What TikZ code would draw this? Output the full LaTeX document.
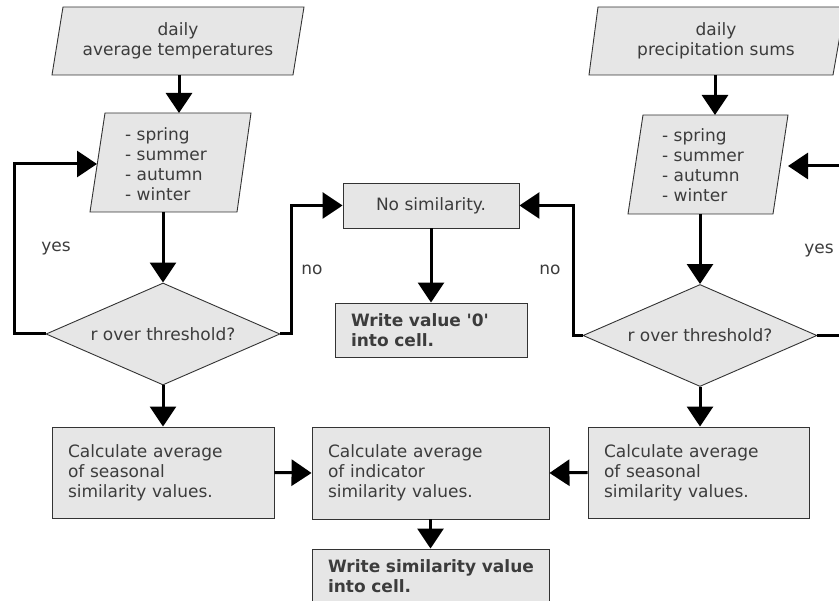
\documentclass[tikz,border=0pt]{standalone}
\usepackage{fontspec}
\setmainfont{DejaVu Sans}
\usetikzlibrary{arrows.meta,shapes.geometric}
\definecolor{boxfill}{HTML}{E6E6E6}
\definecolor{txtcol}{HTML}{3C3C3C}
\definecolor{edgecol}{HTML}{333333}
\begin{document}
\begin{tikzpicture}[x=1pt,y=-1pt,
  shp/.style={draw=edgecol, fill=boxfill, line width=0.9pt},
  txtstyle/.style={text=txtcol, font=\fontsize{17}{20}\selectfont},
  rbox/.style={shp, txtstyle, rectangle, inner ysep=0pt, inner xsep=16pt, align=left},
  dia/.style={shp, txtstyle, diamond, inner sep=0pt, aspect=2.29, minimum width=234pt, minimum height=102pt},
  conn/.style={line width=3pt, line join=miter, -{Triangle[length=20pt,width=26pt]}},
  lab/.style={txtstyle, inner sep=0pt}]
\useasboundingbox (0,0) rectangle (839,601);
\clip (0,0) rectangle (839,601);

% left input parallelograms
\path[shp] (63,7) -- (304,7) -- (293,75) -- (52,75) -- cycle;
\node[txtstyle, align=center, inner sep=0pt] (topL) at (178,41) {daily\\average temperatures};
\coordinate (topLs) at (179,75);
\path[shp] (105,113) -- (251,113) -- (237,212) -- (90,212) -- cycle;
\node[txtstyle, align=left, inner sep=0pt, anchor=west] (seasL) at (125,164) {- spring\\- summer\\- autumn\\- winter};
\coordinate (seasLn) at (179,113);
\coordinate (seasLs) at (163,212);
\coordinate (seasLw) at (97,164);

% right input parallelograms
\path[shp] (598,7) -- (845,7) -- (833,75) -- (589,75) -- cycle;
\node[txtstyle, align=center, inner sep=0pt] (topR) at (716,41) {daily\\precipitation sums};
\coordinate (topRs) at (715,75);
\path[shp] (643,115) -- (788,115) -- (773,214) -- (628,214) -- cycle;
\node[txtstyle, align=left, inner sep=0pt, anchor=west] (seasR) at (662,165) {- spring\\- summer\\- autumn\\- winter};
\coordinate (seasRn) at (715,115);
\coordinate (seasRs) at (700,214);
\coordinate (seasRe) at (788,166);

% decisions
\node[dia] (diaL) at (163,334) {r over threshold?};
\node[dia] (diaR) at (700,335.5) {r over threshold?};

% rectangles
\node[rbox, align=center, minimum width=176pt, minimum height=45pt, inner xsep=0pt] (noSim) at (431,205.5) {No similarity.};
\node[rbox, text width=160pt, minimum height=54pt, font=\fontsize{17}{20}\selectfont\bfseries] (wZero) at (431,330) {Write value \textquotesingle 0\textquotesingle\\into cell.};
\node[rbox, text width=190pt, minimum height=91pt] (calcL) at (163,472.5) {Calculate average\\of seasonal\\similarity values.};
\node[rbox, text width=205pt, minimum height=92pt] (mid) at (430.5,473) {Calculate average\\of indicator\\similarity values.};
\node[rbox, text width=189pt, minimum height=91pt] (calcR) at (698.5,472.5) {Calculate average\\of seasonal\\similarity values.};
\node[rbox, text width=205pt, minimum height=54pt, font=\fontsize{17}{20}\selectfont\bfseries] (wSim) at (430.5,576) {\mbox{Write similarity value}\\into cell.};

% connectors
\draw[conn] (topLs) -- (seasLn);
\draw[conn] (seasLs) -- (diaL.north);
\draw[conn] (diaL.west) -- ++(-31,0) |- (seasLw);
\draw[conn] (diaL.east) -- ++(11,0) |- (noSim.west);
\draw[conn] (noSim.south) -- (wZero.north);
\draw[conn] (topRs) -- (seasRn);
\draw[conn] (seasRs) -- (diaR.north);
\draw[conn] (diaR.west) -- ++(-9,0) |- (noSim.east);
\draw[conn] (diaR.east) -- ++(40,0) |- (seasRe);
\draw[conn] (diaL.south) -- (calcL.north);
\draw[conn] (diaR.south) -- (diaR.south |- calcR.north);
\draw[conn] (calcL.east) -- (mid.west);
\draw[conn] (calcR.west) -- (mid.east);
\draw[conn] (mid.south) -- (wSim.north);

% labels
\node[lab] (yesL) at (56,249) {yes};
\node[lab] (noL) at (312,270) {no};
\node[lab] (noR) at (550,270) {no};
\node[lab] (yesR) at (819,251) {yes};
\end{tikzpicture}
\end{document}
